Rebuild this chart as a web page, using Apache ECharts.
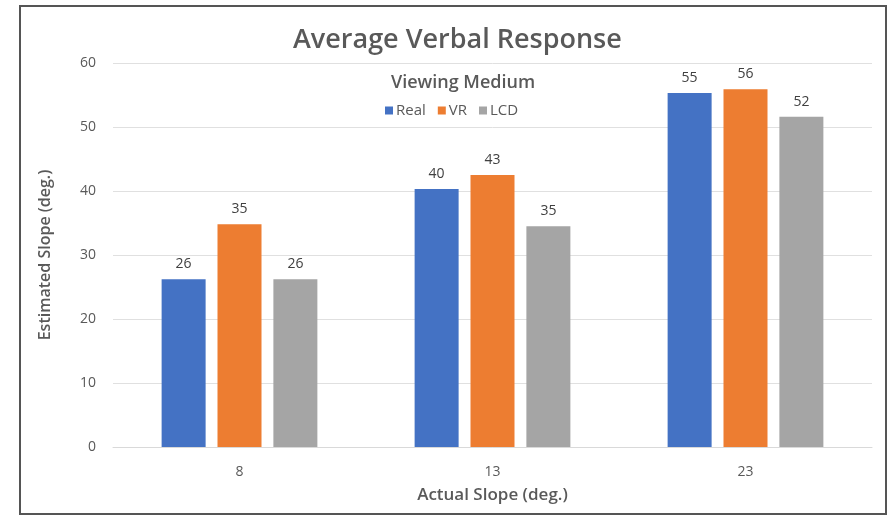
<!DOCTYPE html>
<html>
<head>
<meta charset="utf-8">
<script src="https://cdn.jsdelivr.net/npm/echarts@6/dist/echarts.min.js"></script>
<style>
  html, body { margin: 0; padding: 0; background: #fff; }
  #chart { width: 892px; height: 518px; }
</style>
</head>
<body>
<div id="chart"></div>
<script>
// values
var categories = ['8', '13', '23'];
var seriesNames = ['Real', 'VR', 'LCD'];
var realValues = [26.2, 40.3, 55.3];
var vrValues = [34.8, 42.5, 55.9];
var lcdValues = [26.2, 34.5, 51.6];
var colors = ['#4472c4', '#ed7d31', '#a5a5a5'];

var textColor = '#595959';
var fontFamily = '"Open Sans", "Noto Sans", sans-serif';

var chart = echarts.init(document.getElementById('chart'));

function makeSeries(name, values, color) {
  return {
    name: name,
    type: 'bar',
    data: values,
    barWidth: 44,
    barGap: '27%',
    itemStyle: { color: color },
    label: {
      show: true,
      position: 'top',
      distance: 8,
      color: '#404040',
      fontSize: 14,
      fontWeight: 500,
      fontFamily: fontFamily,
      formatter: function (p) { return Math.round(p.value); }
    }
  };
}

var option = {
  animation: false,
  color: colors,
  textStyle: { fontFamily: fontFamily },
  graphic: [
    {
      type: 'rect',
      shape: { x: 20, y: 6, width: 866, height: 508 },
      style: { fill: '#fff', stroke: '#555', lineWidth: 2 },
      z: -10
    },
    {
      type: 'text',
      x: 463,
      y: 83,
      style: {
        text: 'Viewing Medium',
        fill: textColor,
        fontSize: 18,
        fontWeight: 600,
        fontFamily: fontFamily,
        align: 'center',
        verticalAlign: 'middle'
      }
    }
  ],
  title: {
    text: 'Average Verbal Response',
    left: 288,
    top: 22,
    textStyle: {
      color: textColor,
      fontSize: 27,
      fontWeight: 600,
      fontFamily: fontFamily
    }
  },
  legend: {
    data: seriesNames,
    top: 98,
    left: 380,
    icon: 'rect',
    itemWidth: 8,
    itemHeight: 8,
    itemGap: 12,
    textStyle: { color: textColor, fontSize: 15, fontWeight: 500, fontFamily: fontFamily, padding: [0, 0, 0, -2] }
  },
  grid: { left: 113, right: 20, top: 63, bottom: 71 },
  xAxis: {
    type: 'category',
    data: categories,
    name: 'Actual Slope (deg.)',
    nameLocation: 'middle',
    nameGap: 40,
    nameTextStyle: { color: textColor, fontSize: 17, fontWeight: 600, fontFamily: fontFamily },
    axisTick: { show: false },
    axisLine: { lineStyle: { color: '#d9d9d9' } },
    axisLabel: { color: textColor, fontSize: 14, fontWeight: 500, margin: 18 }
  },
  yAxis: {
    type: 'value',
    min: 0,
    max: 60,
    interval: 10,
    name: 'Estimated Slope (deg.)',
    nameLocation: 'middle',
    nameGap: 60,
    nameTextStyle: { color: textColor, fontSize: 16, fontWeight: 600, fontFamily: fontFamily },
    axisLine: { show: false },
    axisTick: { show: false },
    axisLabel: { color: textColor, fontSize: 14, fontWeight: 500, margin: 17 },
    splitLine: { lineStyle: { color: '#e0e0e0' } }
  },
  series: [
    makeSeries(seriesNames[0], realValues, colors[0]),
    makeSeries(seriesNames[1], vrValues, colors[1]),
    makeSeries(seriesNames[2], lcdValues, colors[2])
  ]
};

chart.setOption(option);
</script>
</body>
</html>
